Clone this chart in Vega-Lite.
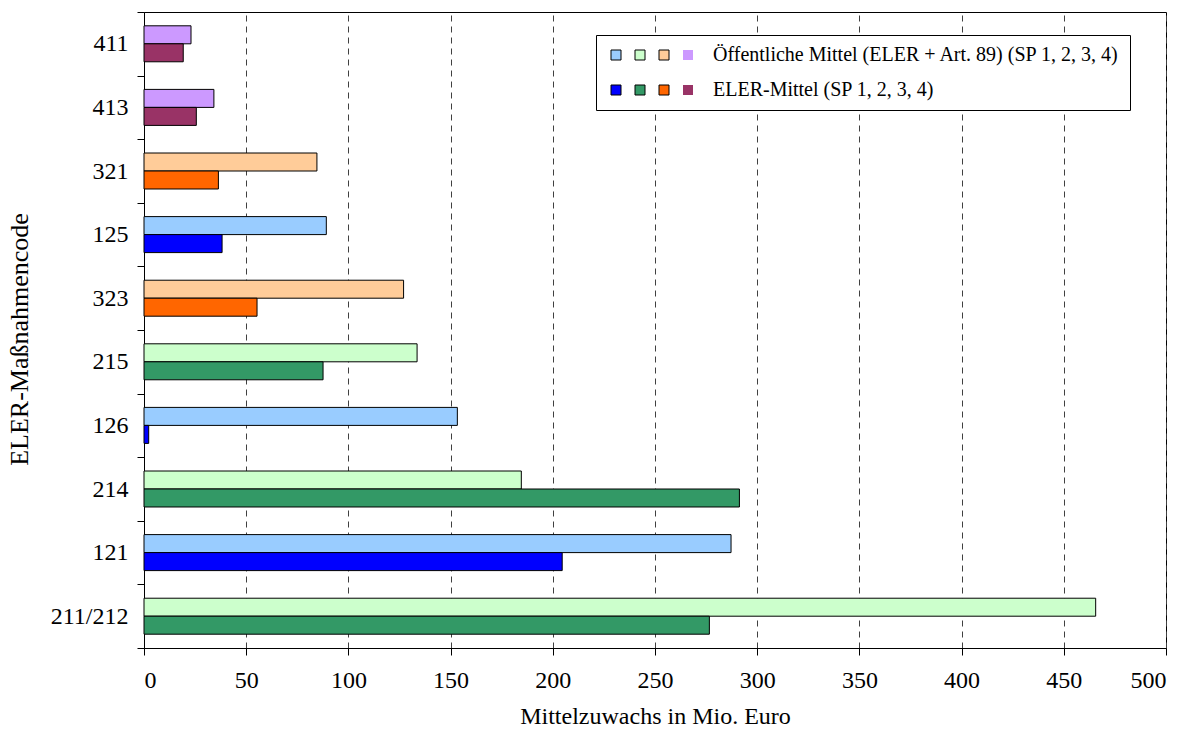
{
  "$schema": "https://vega.github.io/schema/vega-lite/v6.json",
  "width": 1022,
  "height": 636,
  "autosize": {"type": "none"},
  "padding": {"left": 144, "top": 12, "right": 20, "bottom": 82},
  "background": "white",
  "config": {
    "view": {"stroke": "black", "strokeWidth": 1},
    "font": "Liberation Serif"
  },
  "data": {
    "values": [
      {"Code": "411", "SP": 4, "Reihe": "Öffentliche Mittel (ELER + Art. 89) (SP 1, 2, 3, 4)", "Wert": 23.0},
      {"Code": "411", "SP": 4, "Reihe": "ELER-Mittel (SP 1, 2, 3, 4)", "Wert": 19.2},
      {"Code": "413", "SP": 4, "Reihe": "Öffentliche Mittel (ELER + Art. 89) (SP 1, 2, 3, 4)", "Wert": 34.2},
      {"Code": "413", "SP": 4, "Reihe": "ELER-Mittel (SP 1, 2, 3, 4)", "Wert": 25.6},
      {"Code": "321", "SP": 3, "Reihe": "Öffentliche Mittel (ELER + Art. 89) (SP 1, 2, 3, 4)", "Wert": 84.6},
      {"Code": "321", "SP": 3, "Reihe": "ELER-Mittel (SP 1, 2, 3, 4)", "Wert": 36.4},
      {"Code": "125", "SP": 1, "Reihe": "Öffentliche Mittel (ELER + Art. 89) (SP 1, 2, 3, 4)", "Wert": 89.2},
      {"Code": "125", "SP": 1, "Reihe": "ELER-Mittel (SP 1, 2, 3, 4)", "Wert": 38.2},
      {"Code": "323", "SP": 3, "Reihe": "Öffentliche Mittel (ELER + Art. 89) (SP 1, 2, 3, 4)", "Wert": 127.0},
      {"Code": "323", "SP": 3, "Reihe": "ELER-Mittel (SP 1, 2, 3, 4)", "Wert": 55.3},
      {"Code": "215", "SP": 2, "Reihe": "Öffentliche Mittel (ELER + Art. 89) (SP 1, 2, 3, 4)", "Wert": 133.6},
      {"Code": "215", "SP": 2, "Reihe": "ELER-Mittel (SP 1, 2, 3, 4)", "Wert": 87.6},
      {"Code": "126", "SP": 1, "Reihe": "Öffentliche Mittel (ELER + Art. 89) (SP 1, 2, 3, 4)", "Wert": 153.3},
      {"Code": "126", "SP": 1, "Reihe": "ELER-Mittel (SP 1, 2, 3, 4)", "Wert": 2.3},
      {"Code": "214", "SP": 2, "Reihe": "Öffentliche Mittel (ELER + Art. 89) (SP 1, 2, 3, 4)", "Wert": 184.6},
      {"Code": "214", "SP": 2, "Reihe": "ELER-Mittel (SP 1, 2, 3, 4)", "Wert": 291.3},
      {"Code": "121", "SP": 1, "Reihe": "Öffentliche Mittel (ELER + Art. 89) (SP 1, 2, 3, 4)", "Wert": 287.2},
      {"Code": "121", "SP": 1, "Reihe": "ELER-Mittel (SP 1, 2, 3, 4)", "Wert": 204.6},
      {"Code": "211/212", "SP": 2, "Reihe": "Öffentliche Mittel (ELER + Art. 89) (SP 1, 2, 3, 4)", "Wert": 465.6},
      {"Code": "211/212", "SP": 2, "Reihe": "ELER-Mittel (SP 1, 2, 3, 4)", "Wert": 276.6}
    ]
  },
  "encoding": {
    "y": {
      "field": "Code",
      "type": "nominal",
      "sort": ["411", "413", "321", "125", "323", "215", "126", "214", "121", "211/212"],
      "scale": {"paddingInner": 0, "paddingOuter": 0},
      "axis": {
        "title": "ELER-Maßnahmencode",
        "titleFont": "Liberation Serif",
        "titleFontSize": 26,
        "titleFontWeight": "normal",
        "titleColor": "black",
        "titlePadding": 18,
        "titleY": 327,
        "labelFont": "Liberation Serif",
        "labelFontSize": 24,
        "labelColor": "black",
        "labelPadding": 9,
        "tickBand": "extent",
        "tickSize": 7,
        "tickColor": "black",
        "domainColor": "black",
        "grid": false
      }
    },
    "yOffset": {
      "field": "Reihe",
      "type": "nominal",
      "sort": ["Öffentliche Mittel (ELER + Art. 89) (SP 1, 2, 3, 4)", "ELER-Mittel (SP 1, 2, 3, 4)"],
      "scale": {"paddingInner": 0, "paddingOuter": 0.767}
    },
    "x": {
      "field": "Wert",
      "type": "quantitative",
      "scale": {"domain": [0, 500], "nice": false},
      "axis": {
        "title": "Mittelzuwachs in Mio. Euro",
        "titleFont": "Liberation Serif",
        "titleFontSize": 24,
        "titleFontWeight": "normal",
        "titleColor": "black",
        "titlePadding": 12,
        "labelFont": "Liberation Serif",
        "labelFontSize": 24,
        "labelColor": "black",
        "labelPadding": 13,
        "values": [0, 50, 100, 150, 200, 250, 300, 350, 400, 450, 500],
        "tickSize": 7,
        "tickColor": "black",
        "domainColor": "black",
        "grid": true,
        "gridColor": "#404040",
        "gridDash": [6, 5],
        "gridWidth": 1
      }
    }
  },
  "layer": [
    {
      "transform": [{"filter": "datum.SP == 1"}],
      "mark": {"type": "bar", "stroke": "black", "strokeWidth": 1},
      "encoding": {
        "color": {
          "field": "Reihe",
          "type": "nominal",
          "scale": {"domain": ["Öffentliche Mittel (ELER + Art. 89) (SP 1, 2, 3, 4)", "ELER-Mittel (SP 1, 2, 3, 4)"], "range": ["#99CCFF", "#0000FF"]},
          "legend": {
            "orient": "none", "legendX": 452, "legendY": 23, "direction": "vertical",
            "title": null, "symbolType": "square", "symbolSize": 100,
            "symbolStrokeColor": "black", "symbolStrokeWidth": 1, "symbolOffset": 0,
            "labelFont": "Liberation Serif", "labelFontSize": 20, "labelColor": "black",
            "labelOffset": 87, "labelLimit": 700, "rowPadding": 15, "padding": 10,
            "strokeColor": "black", "fillColor": "white"
          }
        }
      }
    },
    {
      "transform": [{"filter": "datum.SP == 2"}],
      "mark": {"type": "bar", "stroke": "black", "strokeWidth": 1},
      "encoding": {
        "color": {
          "field": "Reihe",
          "type": "nominal",
          "scale": {"domain": ["Öffentliche Mittel (ELER + Art. 89) (SP 1, 2, 3, 4)", "ELER-Mittel (SP 1, 2, 3, 4)"], "range": ["#CCFFCC", "#339966"]},
          "legend": {
            "orient": "none", "legendX": 476, "legendY": 23, "direction": "vertical",
            "title": null, "symbolType": "square", "symbolSize": 100,
            "symbolStrokeColor": "black", "symbolStrokeWidth": 1, "symbolOffset": 0,
            "labelFont": "Liberation Serif", "labelFontSize": 20, "labelOpacity": 0,
            "labelExpr": "' '",
            "labelOffset": 4, "labelLimit": 700, "rowPadding": 15, "padding": 10
          }
        }
      }
    },
    {
      "transform": [{"filter": "datum.SP == 3"}],
      "mark": {"type": "bar", "stroke": "black", "strokeWidth": 1},
      "encoding": {
        "color": {
          "field": "Reihe",
          "type": "nominal",
          "scale": {"domain": ["Öffentliche Mittel (ELER + Art. 89) (SP 1, 2, 3, 4)", "ELER-Mittel (SP 1, 2, 3, 4)"], "range": ["#FFCC99", "#FF6600"]},
          "legend": {
            "orient": "none", "legendX": 500, "legendY": 23, "direction": "vertical",
            "title": null, "symbolType": "square", "symbolSize": 100,
            "symbolStrokeColor": "black", "symbolStrokeWidth": 1, "symbolOffset": 0,
            "labelFont": "Liberation Serif", "labelFontSize": 20, "labelOpacity": 0,
            "labelExpr": "' '",
            "labelOffset": 4, "labelLimit": 700, "rowPadding": 15, "padding": 10
          }
        }
      }
    },
    {
      "transform": [{"filter": "datum.SP == 4"}],
      "mark": {"type": "bar", "stroke": "black", "strokeWidth": 1},
      "encoding": {
        "color": {
          "field": "Reihe",
          "type": "nominal",
          "scale": {"domain": ["Öffentliche Mittel (ELER + Art. 89) (SP 1, 2, 3, 4)", "ELER-Mittel (SP 1, 2, 3, 4)"], "range": ["#CC99FF", "#993366"]},
          "legend": {
            "orient": "none", "legendX": 524, "legendY": 23, "direction": "vertical",
            "title": null, "symbolType": "square", "symbolSize": 100,
            "symbolStrokeColor": "black", "symbolStrokeWidth": 1, "symbolOffset": 0,
            "labelFont": "Liberation Serif", "labelFontSize": 20, "labelOpacity": 0,
            "labelExpr": "' '",
            "labelOffset": 4, "labelLimit": 700, "rowPadding": 15, "padding": 10,
            "encode": {"symbols": {"update": {"fill": {"signal": "datum.value === 'ELER-Mittel (SP 1, 2, 3, 4)' ? '#800080' : '#CC99FF'"}}}}
          }
        }
      }
    }
  ],
  "resolve": {"scale": {"color": "independent"}, "legend": {"color": "independent"}}
}
